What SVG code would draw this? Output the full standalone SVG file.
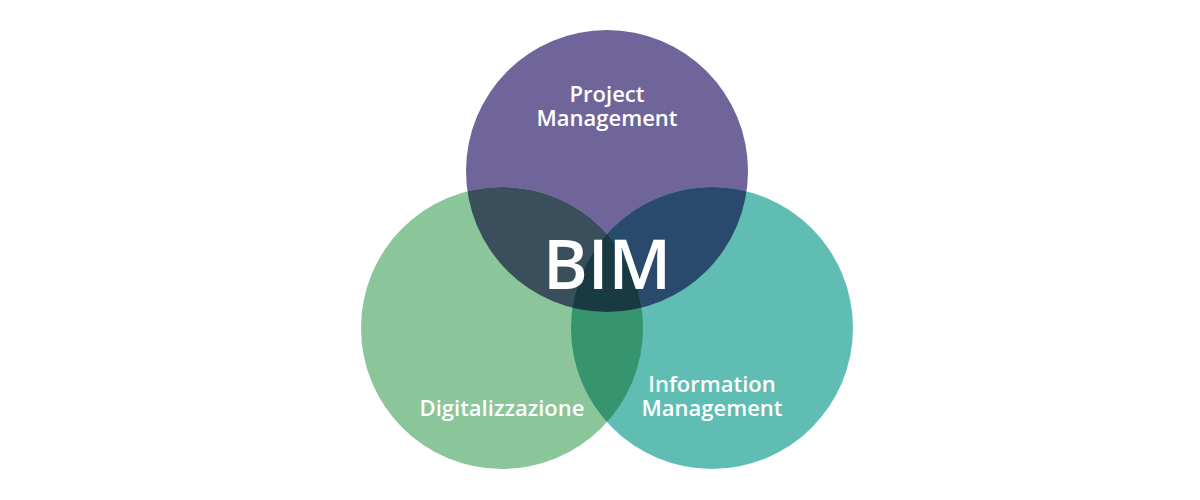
<svg xmlns="http://www.w3.org/2000/svg" width="1200" height="500" viewBox="0 0 1200 500">
<style>
text{font-family:"Open Sans","Liberation Sans",sans-serif;fill:#fff;text-anchor:middle;font-weight:600}
.l{font-size:22px}
.b{font-size:68px}
</style>
<defs>
<clipPath id="cT"><circle cx="607" cy="171" r="141"/></clipPath>
<clipPath id="cL"><circle cx="502" cy="328" r="141"/></clipPath>
<clipPath id="cR"><circle cx="712" cy="328" r="141"/></clipPath>
</defs>
<rect width="1200" height="500" fill="#fff"/>
<g id="top"><circle cx="607" cy="171" r="141" fill="#70659b"/></g>
<g id="left"><circle cx="502" cy="328" r="141" fill="#8bc69a"/></g>
<g id="right"><circle cx="712" cy="328" r="141" fill="#60bdb3"/></g>
<g id="overlaps">
<g clip-path="url(#cT)"><circle cx="502" cy="328" r="141" fill="#3b4e5c"/><circle cx="712" cy="328" r="141" fill="#2a4a6d"/></g>
<g clip-path="url(#cL)"><circle cx="712" cy="328" r="141" fill="#36946f"/></g>
<g clip-path="url(#cL)"><g clip-path="url(#cR)"><circle cx="607" cy="171" r="141" fill="#1a3a43"/></g></g>
</g>
<g id="labels">
<text class="l" x="607" y="102">Project</text>
<text class="l" x="607" y="126">Management</text>
<text class="l" x="502" y="416">Digitalizzazione</text>
<text class="l" x="712" y="392">Information</text>
<text class="l" x="712" y="416">Management</text>
<text class="b" x="607" y="289">BIM</text>
</g>
</svg>
